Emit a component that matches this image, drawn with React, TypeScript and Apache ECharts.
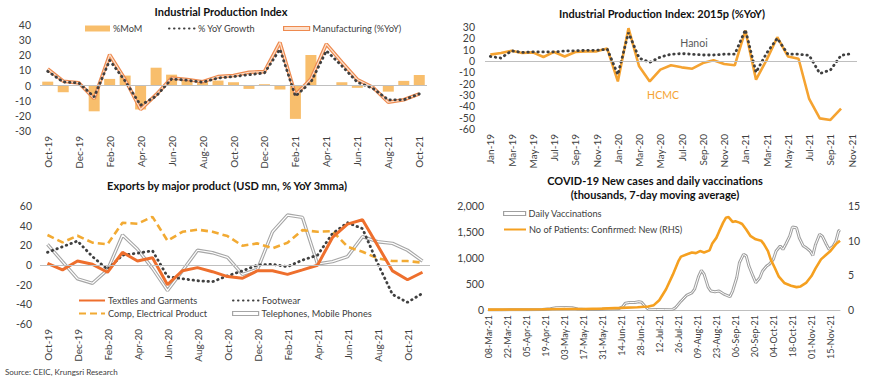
import React, { useEffect, useRef } from 'react';
import * as echarts from 'echarts';

// ---------- Panel 1: Industrial Production Index ----------
const ipiCats = ['Oct-19','Nov-19','Dec-19','Jan-20','Feb-20','Mar-20','Apr-20','May-20','Jun-20','Jul-20','Aug-20','Sep-20','Oct-20','Nov-20','Dec-20','Jan-21','Feb-21','Mar-21','Apr-21','May-21','Jun-21','Jul-21','Aug-21','Sep-21','Oct-21'];
const ipiMoM = [2.6, -4.4, 0, -17, 4.4, 6.6, -15.8, 11.8, 7.2, 4.4, 2.9, 3.3, 2.2, -2.2, 0.9, -2.6, -22, 20.2, -0.3, 2.2, -1.5, 0, -4, 3.1, 7];
const ipiYoY = [9.4, 2.4, 1.8, -7.5, 16.7, 3, -13, -7, 4.4, 3.5, 2.2, 5, 5.9, 7.2, 8.3, 24, -7, 2.2, 23, 13, 2.2, -1.8, -9.4, -9.4, -5.5];
const ipiMfg = [11, 2.9, 1.8, -8.6, 20.4, 4, -15.8, -6, 5, 4, 2.5, 5.9, 6.6, 8.8, 9.2, 28.5, -6.1, 4.4, 27.4, 15.4, 4, -1.1, -11, -9.4, -5.5];

// ---------- Panel 2: IPI 2015p (%YoY), Hanoi vs HCMC ----------
const cityCats = ['Jan-19','Feb-19','Mar-19','Apr-19','May-19','Jun-19','Jul-19','Aug-19','Sep-19','Oct-19','Nov-19','Dec-19','Jan-20','Feb-20','Mar-20','Apr-20','May-20','Jun-20','Jul-20','Aug-20','Sep-20','Oct-20','Nov-20','Dec-20','Jan-21','Feb-21','Mar-21','Apr-21','May-21','Jun-21','Jul-21','Aug-21','Sep-21','Oct-21','Nov-21'];
const hcmc = [5.6, 7, 9, 7, 7.6, 3.5, 8, 4, 8, 8.5, 8.5, 11, -18, 29, -4.7, -18, -7.6, -3.8, -5.6, -6.8, -1.8, 0.6, -2.6, -3.8, 27, -16.5, 1, 21, 4, 2, -33.5, -50.6, -52, -42, null];
const hanoi = [4, 2.6, 9, 7.6, 8, 8, 8, 8.8, 9, 9.4, 9.4, 10.5, -12, 25, 2.6, -1.2, 3.5, 6, 6.5, 6, 5.3, 5.3, 6, 6, 27.6, -10, 7, 20, 6, 6, 5, -11, -8, 5, 6.5];

// ---------- Panel 3: Exports by major product ----------
const expCats = ['Oct-19','Nov-19','Dec-19','Jan-20','Feb-20','Mar-20','Apr-20','May-20','Jun-20','Jul-20','Aug-20','Sep-20','Oct-20','Nov-20','Dec-20','Jan-21','Feb-21','Mar-21','Apr-21','May-21','Jun-21','Jul-21','Aug-21','Sep-21','Oct-21','Nov-21'];
const textiles = [1.7, -5, 4, 0.7, -7.4, 12.9, 4, 7.4, -20, -5.8, -2.7, -6.8, -11.8, -13.5, -5.8, -5.8, -9.5, -5, -0.3, 28, 41.6, 46, 20, -6, -15, -7.4];
const footwear = [12.9, 18.6, 24.4, 8.5, -4.4, 10, 12, 14.5, -11.8, -14, -16, -17, -11, -6, 0, 0.7, -1.7, 5, 10, 32, 43, 37, 2, -30, -38, -28.8];
const compElec = [30.5, 23, 29.8, 22.7, 21, 43, 42, 49, 24.7, 33.8, 36, 33.8, 29.4, 19.6, 22, 17, 22.7, 35.5, 33.8, 34.5, 18.6, 13.5, 6.8, 4, 4, 2.4];
const phones = [21, 3.4, -14, -18.6, -5, 30.5, 16, -3.4, -26, -5.8, 15, 12.5, 7.8, -9.5, -4.4, 33.8, 50.8, 48.4, 1, 3.4, 8.5, 28.8, 23.7, 22, 15, 4];

// ---------- Panel 4: COVID-19 (days since 08-Mar-21, value) ----------
const vaccPoints = [[0,0],[10,2],[20,3],[30,5],[40,8],[46,25],[50,45],[56,50],[62,42],[66,20],[72,12],[80,10],[88,18],[96,25],[99,60],[101,130],[104,145],[108,145],[111,160],[113,150],[116,60],[118,15],[124,10],[130,12],[136,15],[138,45],[142,170],[146,280],[150,330],[152,400],[155,650],[157,760],[159,690],[162,440],[164,365],[167,350],[170,365],[174,300],[178,255],[180,365],[183,620],[185,910],[188,1070],[190,1040],[192,845],[195,650],[197,525],[200,620],[202,750],[205,845],[207,880],[210,975],[212,1135],[215,1230],[217,1165],[219,1260],[222,1420],[224,1595],[227,1580],[229,1390],[232,1230],[234,1200],[237,1135],[239,1050],[241,1260],[244,1455],[246,1420],[249,1260],[251,1165],[254,1230],[256,1325],[258,1520],[259,1540]];
const casePoints = [[0,0.05],[20,0.08],[40,0.1],[56,0.15],[70,0.15],[84,0.2],[98,0.3],[110,0.4],[118,0.5],[122,0.7],[126,1.4],[131,3.0],[136,5.1],[140,7.0],[142,7.7],[146,8.0],[150,8.3],[153,8.2],[156,8.5],[159,8.3],[163,8.6],[165,9.6],[168,10.4],[170,11.3],[173,12.6],[175,13.3],[177,13.4],[180,12.7],[182,12.8],[185,12.6],[187,12.4],[190,11.6],[193,10.7],[197,10.2],[201,10.0],[203,9.5],[206,8.5],[208,7.3],[211,6.1],[214,4.8],[218,3.9],[223,3.5],[227,3.3],[230,3.4],[234,3.9],[238,4.9],[241,6.0],[245,7.3],[249,8.0],[252,8.5],[256,9.5],[259,10.0]];
const covidLastDay = 259;
const MONTHS = ['Jan','Feb','Mar','Apr','May','Jun','Jul','Aug','Sep','Oct','Nov','Dec'];

const FONT = 'Lato, "Noto Sans", sans-serif';
const TXT = '#404040';
const AX = '#BFBFBF';

function dayLabel(d: number): string {
  if (d % 14 !== 0) return '';
  const dt = new Date(Date.UTC(2021, 2, 8 + d));
  return String(dt.getUTCDate()).padStart(2, '0') + '-' + MONTHS[dt.getUTCMonth()] + '-21';
}

const zeroLine = {
  silent: true,
  symbol: 'none',
  label: { show: false },
  lineStyle: { color: AX, type: 'solid', width: 1 },
  data: [{ yAxis: 0 }],
};

const dotted = (c: string) => ({ color: c, width: 2.8, type: [0.5, 4.5], cap: 'round' });

function catX(gridIndex: number, data: string[]) {
  return {
    type: 'category', gridIndex, data, boundaryGap: true,
    axisLine: { show: false }, axisTick: { show: false }, splitLine: { show: false },
    axisLabel: { rotate: 90, interval: 1, fontSize: 10, color: TXT, fontFamily: FONT, margin: 5 },
  };
}
function valY(gridIndex: number, min: number, max: number, interval: number, margin: number, extra: any = {}) {
  return {
    type: 'value', gridIndex, min, max, interval,
    axisLine: { show: false }, axisTick: { show: false }, splitLine: { show: false },
    axisLabel: { fontSize: 10.5, color: TXT, fontFamily: FONT, margin },
    ...extra,
  };
}
// line legend: hide the symbol marker, keep the line
function leg(name: string, left: number, top: number, extra: any = {}) {
  return {
    left, top, padding: 0, itemGap: 0, itemWidth: 26, itemHeight: 10,
    itemStyle: { opacity: 0 },
    textStyle: { fontSize: 9.2, color: TXT, fontFamily: FONT, padding: [0, 0, 0, -2] },
    data: [name], selectedMode: false, ...extra,
  };
}
// rectangle legend (bars and double lines)
function legRect(name: string, left: number, top: number, fill: string, border: string | null, w: number, h: number) {
  return {
    left, top, padding: 0, itemGap: 0, itemWidth: w, itemHeight: h,
    textStyle: { fontSize: 9.2, color: TXT, fontFamily: FONT, padding: [0, 0, 0, -2] },
    selectedMode: false,
    data: [{ name, icon: 'rect', itemStyle: border ? { color: fill, borderColor: border, borderWidth: 1.2, opacity: 1 } : { color: fill, opacity: 1, borderWidth: 0 } }],
  };
}

export default function App() {
  const ref = useRef<HTMLDivElement>(null);
  useEffect(() => {
    if (!ref.current) return;
    const chart = echarts.init(ref.current, undefined, { renderer: 'svg' });
    const title = (text: string, x: number, y: number) => ({ type: 'text', x, y, style: { text, font: `bold 11px ${FONT}`, fill: '#111', textAlign: 'center', textVerticalAlign: 'middle' } });
    const option: any = {
      animation: false,
      backgroundColor: '#fff',
      textStyle: { fontFamily: FONT },
      grid: [
        { left: 40, top: 25, width: 387, height: 106 },
        { left: 485, top: 27, width: 372, height: 102 },
        { left: 40, top: 206, width: 390, height: 118 },
        { left: 488, top: 206, width: 352, height: 104 },
      ],
      xAxis: [
        catX(0, ipiCats),
        catX(1, cityCats),
        catX(2, expCats),
        {
          type: 'value', gridIndex: 3, min: 0, max: covidLastDay, interval: 14,
          axisLine: { show: true, lineStyle: { color: AX } }, axisTick: { show: false }, splitLine: { show: false },
          axisLabel: { rotate: 90, fontSize: 9, color: TXT, fontFamily: FONT, margin: 5, showMaxLabel: false, formatter: (v: number) => dayLabel(v) },
        },
      ],
      yAxis: [
        valY(0, -30, 40, 10, 9),
        valY(1, -60, 30, 10, 10),
        valY(2, -60, 60, 20, 8),
        valY(3, 0, 2000, 500, 4, { axisLabel: { fontSize: 10.5, color: TXT, fontFamily: FONT, margin: 4, formatter: (v: number) => v.toLocaleString('en-US') } }),
        valY(3, 0, 15, 5, 8, { position: 'right' }),
      ],
      legend: [
        legRect('%MoM', 85, 24, '#F8BE6C', null, 25, 6),
        leg('% YoY Growth', 168, 24),
        legRect('Manufacturing (%YoY)', 283, 24, '#FCE0CC', '#EE8A4F', 26, 4),
        leg('Textiles and Garments', 78, 296),
        leg('Footwear', 232, 296),
        leg('Comp, Electrical Product', 78, 309),
        legRect('Telephones, Mobile Phones', 232, 309, '#FFFFFF', '#A6A6A6', 26, 4),
        legRect('Daily Vaccinations', 503, 209, '#FFFFFF', '#A0A0A0', 22, 4),
        leg('No of Patients: Confirmed: New (RHS)', 503, 225, { itemWidth: 22 }),
      ],
      graphic: [
        title('Industrial Production Index', 221, 11),
        title('Industrial Production Index: 2015p (%YoY)', 662, 13),
        title('Exports by major product (USD mn, % YoY 3mma)', 227, 185),
        title('COVID-19 New cases and daily vaccinations', 655, 180),
        title('(thousands, 7-day moving average)', 655, 194),
        { type: 'text', x: 694, y: 43, style: { text: 'Hanoi', font: `10.5px ${FONT}`, fill: '#595959', textAlign: 'center', textVerticalAlign: 'middle' } },
        { type: 'text', x: 663, y: 95, style: { text: 'HCMC', font: `10.5px ${FONT}`, fill: '#F5A331', textAlign: 'center', textVerticalAlign: 'middle' } },
        { type: 'text', x: 5, y: 372, style: { text: 'Source: CEIC, Krungsri Research', font: `8px ${FONT}`, fill: TXT, textAlign: 'left', textVerticalAlign: 'middle' } },
      ],
      series: [
        // Panel 1
        { name: '%MoM', type: 'bar', xAxisIndex: 0, yAxisIndex: 0, data: ipiMoM, barWidth: 11, itemStyle: { color: '#F8BE6C' }, markLine: zeroLine },
        { name: 'Manufacturing (%YoY)', type: 'line', xAxisIndex: 0, yAxisIndex: 0, data: ipiMfg, symbol: 'none', lineStyle: { color: '#EE8A4F', width: 3.6 }, itemStyle: { color: '#EE8A4F' } },
        { name: 'mfgInner', type: 'line', xAxisIndex: 0, yAxisIndex: 0, data: ipiMfg, symbol: 'none', lineStyle: { color: '#FCE0CC', width: 1.2 }, silent: true },
        { name: '% YoY Growth', type: 'line', xAxisIndex: 0, yAxisIndex: 0, data: ipiYoY, symbol: 'none', lineStyle: dotted('#404040'), itemStyle: { color: '#404040' } },
        // Panel 2
        { name: 'HCMC', type: 'line', xAxisIndex: 1, yAxisIndex: 1, data: hcmc, symbol: 'none', lineStyle: { color: '#F5A331', width: 2.6 }, markLine: zeroLine },
        { name: 'Hanoi', type: 'line', xAxisIndex: 1, yAxisIndex: 1, data: hanoi, symbol: 'none', lineStyle: dotted('#404040') },
        // Panel 3
        { name: 'Telephones, Mobile Phones', type: 'line', xAxisIndex: 2, yAxisIndex: 2, data: phones, symbol: 'none', lineStyle: { color: '#A6A6A6', width: 3.4 }, itemStyle: { color: '#A6A6A6' }, markLine: zeroLine },
        { name: 'phonesInner', type: 'line', xAxisIndex: 2, yAxisIndex: 2, data: phones, symbol: 'none', lineStyle: { color: '#FFFFFF', width: 1.2 }, silent: true },
        { name: 'Comp, Electrical Product', type: 'line', xAxisIndex: 2, yAxisIndex: 2, data: compElec, symbol: 'none', lineStyle: { color: '#F2AA33', width: 2.6, type: [7, 4] }, itemStyle: { color: '#F2AA33' } },
        { name: 'Footwear', type: 'line', xAxisIndex: 2, yAxisIndex: 2, data: footwear, symbol: 'none', lineStyle: dotted('#404040'), itemStyle: { color: '#404040' } },
        { name: 'Textiles and Garments', type: 'line', xAxisIndex: 2, yAxisIndex: 2, data: textiles, symbol: 'none', lineStyle: { color: '#EE6F2D', width: 3 }, itemStyle: { color: '#EE6F2D' } },
        // Panel 4
        { name: 'Daily Vaccinations', type: 'line', xAxisIndex: 3, yAxisIndex: 3, data: vaccPoints, symbol: 'none', lineStyle: { color: '#A0A0A0', width: 3 }, itemStyle: { color: '#A0A0A0' } },
        { name: 'vaccInner', type: 'line', xAxisIndex: 3, yAxisIndex: 3, data: vaccPoints, symbol: 'none', lineStyle: { color: '#FFFFFF', width: 1 }, silent: true },
        { name: 'No of Patients: Confirmed: New (RHS)', type: 'line', xAxisIndex: 3, yAxisIndex: 4, data: casePoints, symbol: 'none', lineStyle: { color: '#F5A020', width: 2.6 }, itemStyle: { color: '#F5A020' } },
      ],
    };
    chart.setOption(option);
    return () => chart.dispose();
  }, []);
  return <div ref={ref} style={{ width: 870, height: 382, position: 'absolute', left: 0, top: 0 }} />;
}
